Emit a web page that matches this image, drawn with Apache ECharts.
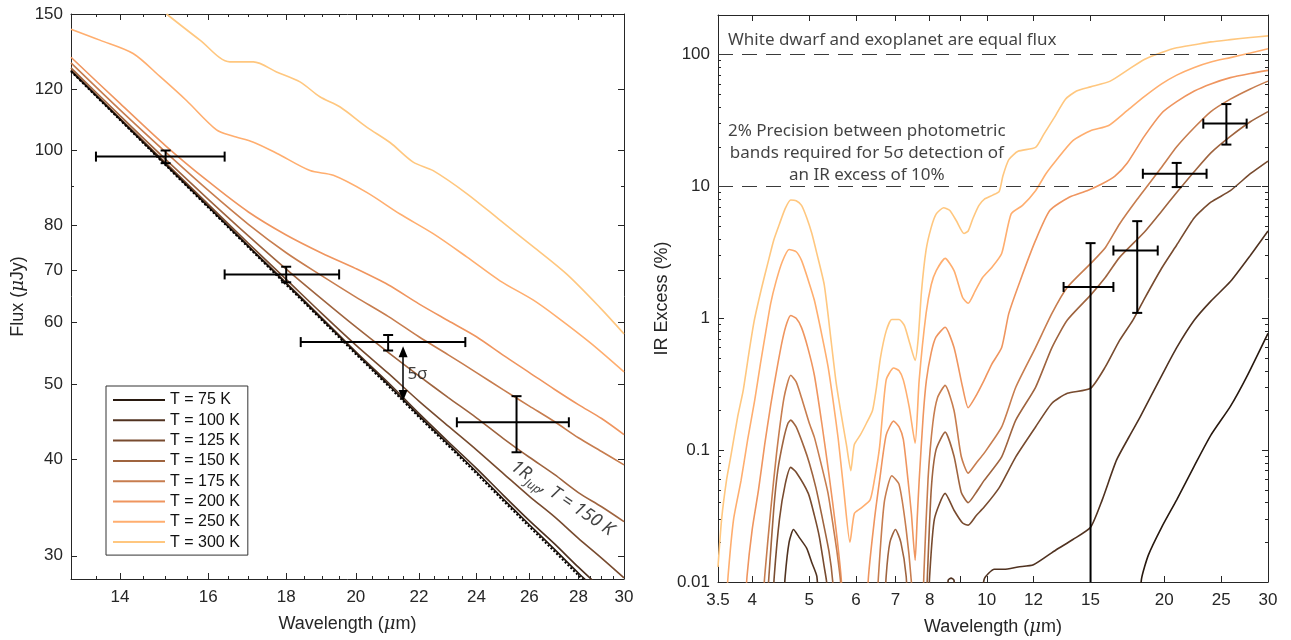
<!DOCTYPE html>
<html><head><meta charset="utf-8">
<script src="https://cdn.jsdelivr.net/npm/echarts@6/dist/echarts.min.js"></script>
<style>html,body{margin:0;padding:0;background:#fff}#c{width:1291px;height:640px}</style>
</head><body><div id="c"></div>
<script>
// ---------------- DATA ----------------
const tempNames = ['T = 75 K','T = 100 K','T = 125 K','T = 150 K','T = 175 K','T = 200 K','T = 250 K','T = 300 K'];
const tempColors = ['#28190f','#503220','#784b2f','#9f643f','#c77d4f','#ef955f','#ffae6f','#ffc77f'];

// Left panel: flux (uJy) vs wavelength (um)
const leftWavelengths = [13,14,15,16,17,18,19,20,21,22,23,24,25,26,27,28,29,30];
const leftPhotosphere = [126.5,109.5,95.7,84.4,75.0,67.1,60.4,54.6,49.7,45.3,41.6,38.3,35.3,32.7,30.4,28.3,26.5,24.8];
const leftT75  = [126.7,109.7,95.9,84.6,75.2,67.3,60.6,54.8,49.9,45.5,41.8,38.5,35.5,32.9,30.6,28.5,26.7,25.0];
const leftT100 = [126.8,109.8,96.0,84.7,75.3,67.5,60.8,55.0,50.2,45.8,42.1,38.9,35.9,33.3,31.1,29.0,27.2,25.6];
const leftT125 = [127.0,110.0,96.4,85.2,75.9,68.2,61.6,56.1,51.6,47.5,44.1,41.1,38.3,35.8,33.7,31.6,29.8,28.1];
const leftT150 = [127.8,110.9,97.4,86.5,77.6,70.3,64.3,59.2,54.9,51.2,48.0,45.2,42.5,40.2,38.2,36.2,34.7,33.2];
const leftT175 = [129.7,112.8,99.5,88.8,80.3,73.8,68.9,64.7,61.1,57.5,54.5,51.7,49.1,46.8,44.7,42.6,40.9,39.3];
const leftT200 = [131.9,115.0,101.4,91.2,83.3,77.8,73.7,70.4,67.1,63.4,60.3,57.5,54.4,51.7,49.2,47.0,45.1,43.0];
const leftT250 = [[13,143.4],[13.58,138.8],[14.28,133.4],[14.87,124.6],[15.48,116],[16.2,106.3],[16.6,104.4],[17.13,102.5],[17.74,99.2],[18.66,94.2],[19.33,92.9],[20.33,88.3],[21.38,82.8],[22.48,78.1],[23.65,72.9],[24.87,67.9],[26.16,64.1],[27.1,61],[28.5,56.5],[30,51.8]];
const leftT300 = [[15.02,150],[15.8,138.8],[16.53,130.1],[17.13,130.1],[17.74,126.3],[18.38,122.6],[18.94,117.3],[19.53,113.8],[20.33,107.2],[21.06,102.4],[21.81,96.6],[22.48,94.2],[23.65,88],[24.87,81.3],[26.16,75.1],[27.5,69.3],[28.93,62.7],[30,58]];

// Photometric bands (error bars)
const bandCenters = [15, 18, 21, 25.5];
const bandLow     = [13.5, 16.4, 18.4, 23.3];
const bandHigh    = [16.4, 19.5, 23.6, 27.6];
const leftFlux    = [98.2, 69.2, 56.6, 44.6];
const leftFluxLo  = [96.3, 67.6, 55.2, 40.8];
const leftFluxHi  = [100.0, 70.8, 57.8, 48.2];
const rightExcess   = [1.73, 3.27, 12.5, 30];
const rightExcessLo = [0.001, 1.10, 9.9, 20.8];
const rightExcessHi = [3.72, 5.46, 15.1, 42.2];

// Right panel: IR excess (%) vs wavelength (um); null = gap below axis
const rightT300 = [[3.5,0.013],[3.55,0.03],[3.62,0.06],[3.68,0.09],[3.78,0.18],[3.86,0.28],[3.95,0.55],[4.03,0.95],[4.15,1.7],[4.25,2.6],[4.35,3.9],[4.45,5.2],[4.55,6.8],[4.65,7.9],[4.75,7.8],[4.85,7.2],[4.95,5.8],[5.05,4.4],[5.15,3.1],[5.3,1.8],[5.45,0.65],[5.55,0.33],[5.66,0.19],[5.78,0.11],[5.88,0.07],[5.96,0.11],[6.1,0.13],[6.25,0.16],[6.4,0.2],[6.5,0.3],[6.6,0.5],[6.75,0.8],[6.9,0.98],[7.1,0.98],[7.25,0.88],[7.4,0.65],[7.56,0.48],[7.65,0.7],[7.75,1.6],[7.89,3.3],[8.05,4.9],[8.21,6.2],[8.45,6.9],[8.65,6.6],[8.88,5.5],[9.15,4.4],[9.3,4.6],[9.47,5.7],[9.7,7.2],[9.9,8.0],[10.24,8.6],[10.5,9.2],[10.65,12],[10.9,16],[11.3,18.5],[12.1,19.8],[12.5,25],[13.0,33],[13.6,46],[14.2,53],[15.0,57],[16.2,63],[17.3,76],[18.5,92],[19.8,104],[21,113],[22.5,119],[24,125],[25.9,130],[28,135],[30,139]];
const rightT250 = [[3.6,0.005],[3.64,0.011],[3.72,0.03],[3.83,0.059],[3.93,0.12],[4.04,0.24],[4.13,0.45],[4.22,0.8],[4.3,1.3],[4.39,1.9],[4.5,2.7],[4.62,3.33],[4.75,3.2],[4.85,2.75],[4.97,2.0],[5.1,1.37],[5.25,0.75],[5.38,0.43],[5.5,0.22],[5.6,0.12],[5.72,0.05],[5.86,0.02],[5.96,0.033],[6.1,0.036],[6.34,0.042],[6.45,0.06],[6.58,0.106],[6.75,0.34],[6.95,0.42],[7.1,0.40],[7.22,0.34],[7.39,0.21],[7.56,0.113],[7.68,0.34],[7.89,1.09],[8.05,1.8],[8.21,2.3],[8.5,2.85],[8.8,2.3],[9.1,1.44],[9.3,1.3],[9.55,1.6],[9.84,2.04],[10.2,2.43],[10.6,3.1],[11.0,6.2],[11.5,7.2],[12.1,9.3],[12.6,12.5],[13.1,15.7],[14,22.3],[15,26.5],[16.1,29],[17.3,37.6],[18.5,48],[19.8,60],[21,70],[22.5,80],[24,88],[25.9,95],[28,103],[30,111]];
const rightT200 = [[3.88,0.005],[3.92,0.011],[4.0,0.025],[4.1,0.05],[4.2,0.11],[4.3,0.22],[4.4,0.4],[4.5,0.68],[4.58,0.92],[4.65,1.05],[4.75,1.0],[4.85,0.85],[4.97,0.6],[5.1,0.37],[5.25,0.16],[5.4,0.065],[5.55,0.025],[5.66,0.011],[5.72,0.005],[6.0,null],[6.25,0.005],[6.3,0.011],[6.45,0.03],[6.58,0.059],[6.75,0.13],[6.95,0.166],[7.1,0.15],[7.22,0.12],[7.35,0.06],[7.45,0.033],[7.56,0.0146],[7.62,0.03],[7.68,0.059],[7.8,0.18],[7.9,0.34],[8.05,0.55],[8.2,0.72],[8.5,0.855],[8.8,0.6],[9.1,0.3],[9.3,0.21],[9.55,0.25],[9.9,0.34],[10.2,0.45],[10.6,0.6],[10.9,1.09],[11.4,1.94],[12.1,3.9],[12.8,6.6],[13.8,8.3],[14.8,9.3],[15.7,10.5],[16.5,12],[17.3,15],[18.5,24],[19.8,36],[21,44],[22.5,53],[24,60],[25.9,67],[28,72],[30,76]];
const rightT175 = [[4.15,0.005],[4.2,0.011],[4.3,0.035],[4.4,0.095],[4.53,0.25],[4.65,0.37],[4.75,0.33],[4.85,0.25],[5.0,0.16],[5.1,0.125],[5.25,0.075],[5.38,0.047],[5.5,0.025],[5.57,0.017],[5.65,0.01],[5.7,0.005],[6.0,null],[6.5,0.005],[6.55,0.011],[6.7,0.04],[6.9,0.064],[7.1,0.055],[7.3,0.025],[7.45,0.01],[7.5,0.005],[7.65,null],[7.78,0.005],[7.82,0.011],[7.95,0.06],[8.1,0.16],[8.25,0.25],[8.5,0.31],[8.8,0.2],[9.05,0.09],[9.3,0.067],[9.6,0.08],[9.9,0.095],[10.6,0.15],[11.2,0.30],[12.1,0.6],[12.9,1.09],[13.7,1.72],[15.0,2.6],[15.9,3.45],[16.8,5.2],[18,8],[19.8,14],[21,20],[22.5,28],[24,37],[25.9,46],[28,55],[30,63]];
const rightT150 = [[4.22,0.005],[4.27,0.011],[4.35,0.035],[4.42,0.07],[4.52,0.12],[4.6,0.16],[4.65,0.169],[4.75,0.15],[4.9,0.105],[5.0,0.08],[5.13,0.052],[5.25,0.032],[5.4,0.017],[5.48,0.01],[5.52,0.005],[6.0,null],[6.7,0.005],[6.75,0.011],[6.85,0.02],[7.0,0.025],[7.15,0.02],[7.3,0.011],[7.35,0.005],[7.6,null],[7.88,0.005],[7.93,0.011],[8.05,0.05],[8.2,0.1],[8.5,0.137],[8.8,0.09],[9.05,0.048],[9.3,0.04],[9.6,0.048],[9.9,0.059],[10.6,0.089],[11.2,0.169],[12.1,0.30],[12.9,0.6],[13.7,0.97],[15.0,1.5],[15.9,2.05],[16.8,2.9],[18.5,4.5],[19.8,6.5],[21,9],[22.5,13],[24,18],[25.9,24],[28,31],[30,37]];
const rightT125 = [[4.32,0.005],[4.36,0.011],[4.45,0.03],[4.55,0.055],[4.65,0.074],[4.75,0.068],[4.98,0.047],[5.1,0.032],[5.2,0.022],[5.3,0.013],[5.35,0.01],[5.4,0.005],[6.5,null],[7.95,0.005],[8.0,0.011],[8.15,0.03],[8.5,0.047],[8.8,0.035],[9.1,0.028],[9.3,0.027],[9.6,0.032],[9.9,0.037],[10.5,0.052],[11.2,0.089],[12.1,0.15],[12.9,0.227],[13.7,0.27],[15.0,0.295],[15.9,0.43],[16.8,0.68],[17.7,0.97],[18.5,1.4],[19.8,2.4],[21,3.6],[22.5,5.8],[24,7.6],[25.9,9.3],[28,12.5],[30,15.6]];
const rightT100 = [[4.5,0.005],[4.55,0.011],[4.62,0.02],[4.7,0.025],[4.8,0.022],[4.95,0.018],[5.05,0.014],[5.15,0.011],[5.2,0.005],[6.5,null],[8.55,0.005],[8.6,0.0103],[8.7,0.0107],[8.8,0.0103],[8.85,0.005],[9.3,null],[9.75,0.005],[9.9,0.0105],[10.3,0.0125],[10.7,0.0125],[11.3,0.013],[12,0.0135],[13.1,0.0175],[14.0,0.021],[15,0.026],[15.7,0.042],[16.6,0.084],[17.5,0.13],[18.2,0.178],[20,0.40],[21,0.6],[22.5,0.97],[24,1.35],[25.9,1.9],[28,3.0],[30,4.6]];
const rightT75 = [[18.1,0.005],[18.3,0.0105],[18.8,0.016],[19.8,0.026],[21,0.042],[22.5,0.076],[24,0.13],[25.9,0.215],[27.6,0.36],[30,0.77]];
const rightThresholds = [100, 10];

// Axis ticks
const leftXMajor = [14,16,18,20,22,24,26,28,30];
const leftXMinor = [13.5,14.5,15,15.5,16.5,17,17.5,18.5,19,19.5,20.5,21,21.5,22.5,23,23.5,24.5,25,25.5,26.5,27,27.5,28.5,29,29.5];
const leftYMajor = [30,40,50,60,70,80,100,120,150];
const leftYMinor = [90];
const rightXMajor = [3.5,4,5,6,7,8,9,10,12,15,20,25,30];
const rightXLabels = [3.5,4,5,6,7,8,10,12,15,20,25,30];
const rightYMajor = [0.01,0.1,1,10,100];
const rightYMinor = [0.02,0.03,0.04,0.05,0.06,0.07,0.08,0.09,0.2,0.3,0.4,0.5,0.6,0.7,0.8,0.9,2,3,4,5,6,7,8,9,20,30,40,50,60,70,80,90];

// ---------------- CHART ----------------
const L10 = Math.log10;
const AX = '#262626';
const FONT = 'Liberation Sans';
const ANN = 'Noto Sans';
const fmtTick = v => String(Math.round(Math.pow(10, v) * 1000) / 1000);
const nameRich = {
  n: {fontSize: 18, color: AX, fontFamily: FONT},
  i: {fontStyle: 'italic', fontSize: 18, color: AX, fontFamily: 'DejaVu Serif'}
};

function axesFor(dim, g, min, max, major, minor, labels, name, nameGap) {
  const base = {gridIndex: g, type: 'value', min: L10(min), max: L10(max), splitLine: {show: false}, axisPointer: {show: false}};
  const pos = dim === 'x' ? ['bottom', 'top'] : ['left', 'right'];
  const line = {show: true, onZero: false, lineStyle: {color: AX, width: 1}};
  const tick = (vals, len) => ({show: true, inside: true, length: len, customValues: vals.map(L10), lineStyle: {color: AX, width: 1}});
  return [
    Object.assign({}, base, {position: pos[0], axisLine: line, axisTick: tick(major, 6),
      axisLabel: {show: true, customValues: labels.map(L10), formatter: fmtTick, fontSize: 17, color: AX, fontFamily: FONT, margin: dim === 'x' ? 10 : 8},
      name: name, nameLocation: 'middle', nameGap: nameGap,
      nameTextStyle: {fontSize: 18, color: AX, fontFamily: FONT, rich: nameRich}}),
    Object.assign({}, base, {position: pos[0], axisLine: {show: false}, axisTick: tick(minor, 3), axisLabel: {show: false}}),
    Object.assign({}, base, {position: pos[1], axisLine: line, axisTick: tick(major, 6), axisLabel: {show: false}}),
    Object.assign({}, base, {position: pos[1], axisLine: {show: false}, axisTick: tick(minor, 3), axisLabel: {show: false}})
  ];
}

const xAxes = [].concat(
  axesFor('x', 0, 13, 30, leftXMajor, leftXMinor, leftXMajor, '{n|Wavelength (}{i|μ}{n|m)}', 36),
  axesFor('x', 1, 3.5, 30, rightXMajor, [], rightXLabels, '{n|Wavelength (}{i|μ}{n|m)}', 36)
);
const yAxes = [].concat(
  axesFor('y', 0, 28, 150, leftYMajor, leftYMinor, leftYMajor, '{n|Flux (}{i|μ}{n|Jy)}', 44),
  axesFor('y', 1, 0.01, 200, rightYMajor, rightYMinor, rightYMajor, '{n|IR Excess (%)}', 47)
);

const pairData = pairs => pairs.map(p => [L10(p[0]), p[1] == null ? '-' : L10(p[1])]);
const gridData = vals => leftWavelengths.map((w, i) => [L10(w), L10(vals[i])]);

const series = [];
const leftSets = [gridData(leftT75), gridData(leftT100), gridData(leftT125), gridData(leftT150), gridData(leftT175), gridData(leftT200), pairData(leftT250), pairData(leftT300)];
const rightSets = [rightT75, rightT100, rightT125, rightT150, rightT175, rightT200, rightT250, rightT300].map(pairData);
for (let i = 7; i >= 0; i--) {
  series.push({type: 'line', name: tempNames[i], xAxisIndex: 0, yAxisIndex: 0, data: leftSets[i], symbol: 'none', smooth: 0.3,
    lineStyle: {color: tempColors[i], width: 1.6}, itemStyle: {color: tempColors[i]}, clip: true, silent: true, z: 2 + (8 - i) * 0.01});
  series.push({type: 'line', name: tempNames[i], xAxisIndex: 4, yAxisIndex: 4, data: rightSets[i], symbol: 'none', connectNulls: false, smooth: 0.2,
    lineStyle: {color: tempColors[i], width: 1.6}, itemStyle: {color: tempColors[i]}, clip: true, silent: true, z: 2 + (8 - i) * 0.01});
}
series.push({type: 'line', name: 'photosphere', xAxisIndex: 0, yAxisIndex: 0, data: gridData(leftPhotosphere), symbol: 'none',
  lineStyle: {color: '#000', width: 2, type: [2, 2]}, clip: true, silent: true, z: 3});

function errRender(params, api) {
  const l = api.coord([api.value(1), api.value(3)]);
  const r = api.coord([api.value(2), api.value(3)]);
  const b = api.coord([api.value(0), api.value(4)]);
  const t = api.coord([api.value(0), api.value(5)]);
  const cs = params.coordSys;
  const bottom = cs.y + cs.height;
  const cap = 5;
  const st = {stroke: '#000', lineWidth: 2};
  const seg = (x1, y1, x2, y2) => ({type: 'line', shape: {x1, y1, x2, y2}, style: st});
  const ch = [
    seg(l[0], l[1], r[0], r[1]),
    seg(t[0], t[1], b[0], Math.min(b[1], bottom)),
    seg(l[0], l[1] - cap, l[0], l[1] + cap),
    seg(r[0], r[1] - cap, r[0], r[1] + cap),
    seg(t[0] - cap, t[1], t[0] + cap, t[1])
  ];
  if (b[1] <= bottom) ch.push(seg(b[0] - cap, b[1], b[0] + cap, b[1]));
  return {type: 'group', children: ch};
}
const errRows = (vals, lo, hi) => bandCenters.map((c, i) => [L10(c), L10(bandLow[i]), L10(bandHigh[i]), L10(vals[i]), L10(lo[i]), L10(hi[i])]);
series.push({type: 'custom', xAxisIndex: 0, yAxisIndex: 0, renderItem: errRender, data: errRows(leftFlux, leftFluxLo, leftFluxHi),
  encode: {x: [0, 1, 2], y: [3, 4, 5]}, silent: true, z: 10});
series.push({type: 'custom', xAxisIndex: 4, yAxisIndex: 4, renderItem: errRender, data: errRows(rightExcess, rightExcessLo, rightExcessHi),
  encode: {x: [0, 1, 2], y: [3, 4, 5]}, silent: true, z: 10});

// Annotations (left)
series.push({type: 'scatter', xAxisIndex: 0, yAxisIndex: 0, symbolSize: 0, silent: true, z: 12,
  data: [
    {value: [L10(21.62), L10(51.5)], label: {show: true, position: 'right', distance: 0, formatter: '5σ', fontSize: 17, fontFamily: ANN, color: '#111'}},
    {value: [L10(27.33), L10(35.6)], label: {show: true, position: 'inside', rotate: -34, formatter: '{a|1R}{s|Jup}{a|, T = 150 K}',
      rich: {a: {fontSize: 18, fontStyle: 'italic', fontFamily: ANN, color: '#111', lineHeight: 26, verticalAlign: 'middle'},
             s: {fontSize: 12, fontStyle: 'italic', fontFamily: ANN, color: '#111', lineHeight: 11, verticalAlign: 'bottom'}}}}
  ],
  markLine: {silent: true, symbol: ['triangle', 'triangle'], symbolSize: [9, 11], label: {show: false}, animation: false,
    lineStyle: {color: '#000', width: 1.5, type: 'solid'},
    data: [[{coord: [L10(21.48), L10(55.0)]}, {coord: [L10(21.48), L10(48.3)]}]]}
});
// Annotations (right)
series.push({type: 'scatter', xAxisIndex: 4, yAxisIndex: 4, symbolSize: 0, silent: true, z: 12,
  data: [
    {value: [L10(3.64), L10(130)], label: {show: true, position: 'right', distance: 0, formatter: 'White dwarf and exoplanet are equal flux', fontSize: 17, fontFamily: ANN, color: '#111'}},
    {value: [L10(6.26), L10(18.0)], label: {show: true, position: 'inside', align: 'center', lineHeight: 22,
      formatter: '2% Precision between photometric\nbands required for 5σ detection of\nan IR excess of 10%', fontSize: 17, fontFamily: ANN, color: '#111'}}
  ],
  markLine: {silent: true, symbol: 'none', label: {show: false}, animation: false,
    lineStyle: {color: '#3a3a3a', width: 1.2, type: [15, 9]},
    data: rightThresholds.map(v => ({yAxis: L10(v)}))}
});

const chart = echarts.init(document.getElementById('c'), null, {renderer: 'canvas'});
chart.setOption({
  animation: false,
  backgroundColor: '#fff',
  textStyle: {fontFamily: FONT},
  grid: [
    {left: 71, top: 14, width: 553, height: 565, containLabel: false, outerBoundsMode: 'none'},
    {left: 718, top: 15, width: 550, height: 567, containLabel: false, outerBoundsMode: 'none'}
  ],
  xAxis: xAxes,
  yAxis: yAxes,
  legend: {
    data: tempNames, orient: 'vertical', left: 106, top: 386, selectedMode: false,
    backgroundColor: '#fff', borderColor: '#333', borderWidth: 1, borderRadius: 0,
    padding: [6, 8, 5, 7], itemGap: 4.3, itemWidth: 52, itemHeight: 2, icon: 'path://M0,0H52V2H0Z',
    textStyle: {fontSize: 16, color: '#111', fontFamily: FONT, lineHeight: 15}
  },
  series: series
});
</script></body></html>
